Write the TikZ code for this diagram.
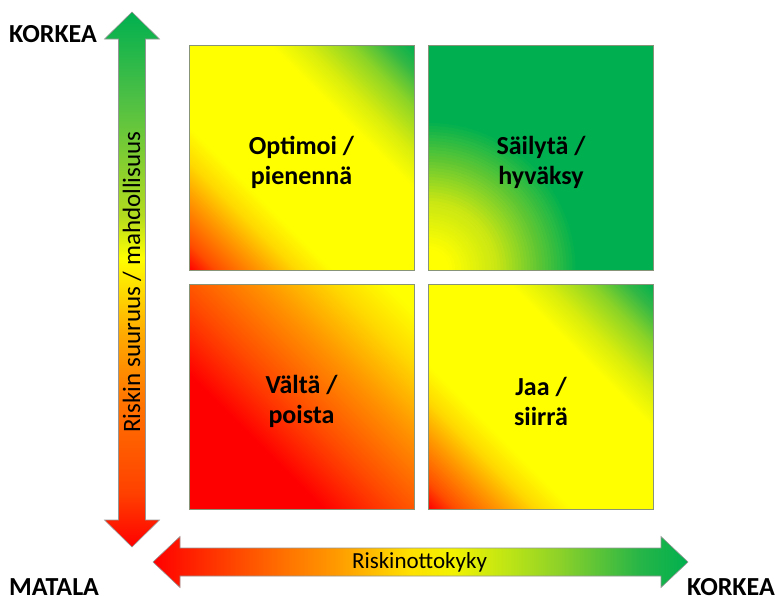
\documentclass[tikz,border=0pt]{standalone}
\usepackage{fontspec}
\setmainfont{Carlito}
\usetikzlibrary{backgrounds}

% Diagonal gradient: red corner, wide yellow middle, green corner
\pgfdeclarehorizontalshading{quadmix}{100bp}{rgb(0bp)=(1,0,0); rgb(25bp)=(1,0,0); rgb(28bp)=(1,0.3,0); rgb(33bp)=(1,0.6,0); rgb(37bp)=(1,0.85,0); rgb(41bp)=(1,1,0); rgb(59bp)=(1,1,0); rgb(63bp)=(0.85,0.93,0.05); rgb(68bp)=(0.55,0.83,0.15); rgb(72bp)=(0.2,0.72,0.27); rgb(75bp)=(0,0.69,0.31); rgb(100bp)=(0,0.69,0.31)}
% Diagonal gradient: mostly red, yellow in the far corner
\pgfdeclarehorizontalshading{quadlow}{100bp}{rgb(0bp)=(1,0,0); rgb(40bp)=(1,0,0); rgb(48bp)=(1,0.28,0); rgb(58bp)=(1,0.58,0); rgb(66bp)=(1,0.85,0); rgb(72bp)=(1,1,0); rgb(100bp)=(1,1,0)}
% Axis arrows: red - orange - yellow - green
\pgfdeclareverticalshading{yaxisgrad}{100bp}{rgb(0bp)=(1,0,0); rgb(25bp)=(1,0,0); rgb(30bp)=(1,0.25,0); rgb(39bp)=(1,0.47,0); rgb(45bp)=(1,0.67,0); rgb(52bp)=(1,1,0); rgb(56bp)=(0.7,0.86,0.12); rgb(67bp)=(0.3,0.75,0.27); rgb(75bp)=(0,0.69,0.31); rgb(100bp)=(0,0.69,0.31)}
\pgfdeclarehorizontalshading{xaxisgrad}{100bp}{rgb(0bp)=(1,0,0); rgb(25bp)=(1,0,0); rgb(38bp)=(1,0.47,0); rgb(42bp)=(1,0.6,0); rgb(49bp)=(1,0.88,0); rgb(53bp)=(0.95,0.95,0); rgb(58bp)=(0.75,0.9,0.08); rgb(63bp)=(0.55,0.82,0.16); rgb(70.5bp)=(0.15,0.71,0.28); rgb(75bp)=(0,0.69,0.31); rgb(100bp)=(0,0.69,0.31)}

\definecolor{riskgreen}{RGB}{0,176,80}
\definecolor{glowyellow}{RGB}{255,255,0}
\definecolor{glowlime}{RGB}{200,230,20}
\definecolor{glowmid}{RGB}{100,200,50}
\definecolor{quadedge}{RGB}{135,148,120}
\definecolor{arrowedge}{RGB}{150,150,150}

% Fill a square node with a shading running corner to corner (45 degrees);
% 6.34 = half the diagonal of a 225pt square over 25bp.
\newcommand\diagonalfill[2]{%
  \begin{scope}
    \clip (#1.south west) rectangle (#1.north east);
    \begin{scope}[shift={(#1.center)}, rotate=45, scale=6.34]
      \pgflowlevelsynccm
      \pgfuseshading{#2}
    \end{scope}
  \end{scope}}

\begin{document}
\begin{tikzpicture}[x=1pt,y=-1pt,
  quad/.style={draw=quadedge, line width=0.7pt, minimum size=225pt,
    inner sep=0pt, outer sep=0pt},
  quadtext/.style={align=center, inner sep=0pt,
    font=\fontsize{26}{30}\selectfont\bfseries},
  axisarrow/.style={draw=arrowedge, line width=0.6pt},
  corner/.style={font=\fontsize{26}{30}\selectfont\bfseries, inner sep=0pt},
  axislabel/.style={font=\fontsize{23}{27}\selectfont, inner sep=0pt}]
\useasboundingbox (0,0) rectangle (777,600);

% vertical axis arrow
\shade[axisarrow, shading=yaxisgrad]
  (132,12) -- (159.5,39) -- (145.5,39) -- (145.5,520) -- (159.5,520)
  -- (132,547) -- (104.5,520) -- (118.5,520) -- (118.5,39) -- (104.5,39) -- cycle;
% horizontal axis arrow
\shade[axisarrow, shading=xaxisgrad]
  (153,562) -- (180,536.5) -- (180,548) -- (661,548) -- (661,536.5)
  -- (688,562) -- (661,587.5) -- (661,576) -- (180,576) -- (180,587.5) -- cycle;

\node[axislabel, font=\fontsize{25}{29}\selectfont, rotate=90] (ylab) at (132,282) {Riskin suuruus / mahdollisuus};
\node[axislabel, anchor=base] (xlab) at (419.5,568) {Riskinottokyky};

% quadrants
\node[quad] (opt) at (301.5,157.5) {};
\node[quad] (keep) at (541,157.5) {};
\node[quad] (avoid) at (301.5,396.5) {};
\node[quad] (share) at (541,396.5) {};

\begin{scope}[on background layer]
  \diagonalfill{opt}{quadmix}
  \diagonalfill{avoid}{quadlow}
  \diagonalfill{share}{quadmix}
  % green quadrant: yellow glow spreading from its lower left corner,
  % built from concentric discs (radius 150pt in 50 steps)
  \begin{scope}
    \clip (keep.south west) rectangle (keep.north east);
    \fill[riskgreen] (keep.south west) rectangle (keep.north east);
    \foreach \i in {50,49,...,1} {
      \pgfmathsetmacro\glowt{\i/50}
      \pgfmathsetmacro\glowr{150*\glowt}
      \ifdim\glowt pt>0.73pt
        \pgfmathsetmacro\glowp{100*(\glowt-0.73)/0.27}
        \colorlet{glow}{riskgreen!\glowp!glowmid}
      \else\ifdim\glowt pt>0.47pt
        \pgfmathsetmacro\glowp{100*(\glowt-0.47)/0.26}
        \colorlet{glow}{glowmid!\glowp!glowlime}
      \else\ifdim\glowt pt>0.15pt
        \pgfmathsetmacro\glowp{100*(\glowt-0.15)/0.32}
        \colorlet{glow}{glowlime!\glowp!glowyellow}
      \else
        \colorlet{glow}{glowyellow}
      \fi\fi\fi
      \fill[glow] (keep.south west) circle[radius=\glowr pt];
    }
  \end{scope}
\end{scope}

\node[quadtext] (optlab) at ([yshift=-5pt]opt.center) {Optimoi /\\pienennä};
\node[quadtext] (keeplab) at ([yshift=-5pt]keep.center) {Säilytä /\\hyväksy};
\node[quadtext] (avoidlab) at ([yshift=-5pt]avoid.center) {Vältä /\\poista};
\node[quadtext] (sharelab) at ([yshift=-5pt]share.center) {Jaa /\\siirrä};

% corner labels
\node[corner, anchor=base west] (ytop) at (9,42) {KORKEA};
\node[corner, anchor=base west] (orig) at (9,595) {MATALA};
\node[corner, anchor=base east] (xend) at (775,595) {KORKEA};
\end{tikzpicture}
\end{document}
